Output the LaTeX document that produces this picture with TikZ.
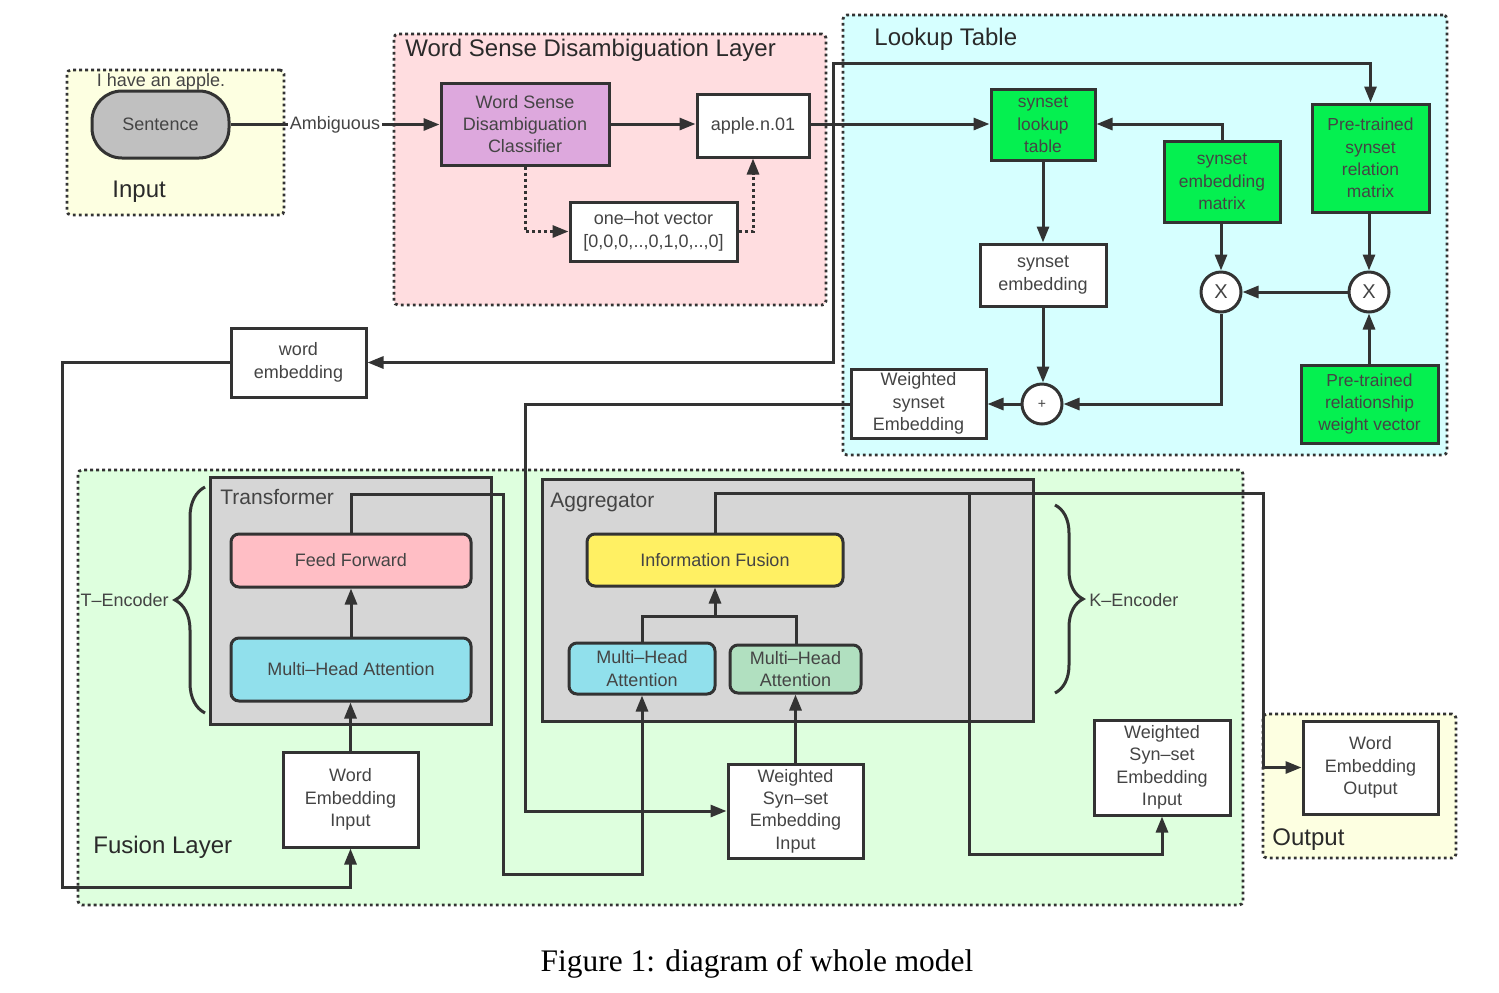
\documentclass[tikz,border=0pt]{standalone}
\usepackage{fontspec}
\setmainfont{Liberation Sans}
\newfontfamily\capfont{Liberation Serif}
\usetikzlibrary{arrows.meta,decorations.pathreplacing}
\definecolor{lc}{HTML}{333333}
\definecolor{tc}{HTML}{444444}
\definecolor{tc2}{HTML}{2A2A2A}
\definecolor{inyel}{HTML}{FDFFE1}
\definecolor{wsdpink}{HTML}{FFDDE0}
\definecolor{lkcyan}{HTML}{D6FFFF}
\definecolor{fusgreen}{HTML}{DEFFDE}
\definecolor{plum}{HTML}{DDA8DD}
\definecolor{brgreen}{HTML}{05F050}
\definecolor{gbox}{HTML}{D6D6D6}
\definecolor{sgray}{HTML}{C0C0C0}
\definecolor{ffpink}{HTML}{FFBEC5}
\definecolor{mhblue}{HTML}{91E0EC}
\definecolor{ifyel}{HTML}{FFF063}
\definecolor{mhgreen}{HTML}{B1E0C0}
\newcommand\myfs{\fontsize{9}{11.2}\selectfont}
\newcommand\myfsg{\fontsize{8.7}{11.2}\selectfont}
\newcommand\myfsT{\fontsize{12}{14}\selectfont}
\newcommand\myfsM{\fontsize{10.5}{12}\selectfont}
% \bx{style}{name}{x1}{y1}{x2}{y2}{text}
\newcommand\bx[7]{\node[#1, minimum width={(#5-#3)*0.5pt}, minimum height={(#6-#4)*0.5pt}] (#2) at ({(#3+#5)/2},{(#4+#6)/2}) {#7};}
\begin{document}
\begin{tikzpicture}[x=0.5pt,y=-0.5pt,
  regionbox/.style={draw=lc, line width=1.4pt, dash pattern=on 1.4pt off 1.6pt, rounded corners=2pt, inner sep=0pt},
  nbox/.style={draw=lc, line width=1.5pt, fill=white, inner sep=0pt, align=center, text=tc, font=\myfs},
  rbox/.style={nbox, rounded corners=4pt},
  gbx/.style={nbox, fill=brgreen, font=\myfsg},
  ln/.style={draw=lc, line width=1.5pt},
  arr/.style={ln, -{Triangle[length=8pt,width=6pt]}},
  darr/.style={arr, dash pattern=on 1.5pt off 1.5pt},
  circ/.style={circle, draw=lc, line width=1.5pt, fill=white, minimum size=20pt, inner sep=0pt, text=tc},
  ttl/.style={anchor=west, inner sep=0pt, text=tc2, font=\myfsT},
  lbl/.style={inner sep=0pt, text=tc, font=\myfs},
  brc/.style={ln, decorate}
]
\useasboundingbox (0,0) rectangle (1499,992);
\fill[white] (0,0) rectangle (1499,992);

% regions
\bx{regionbox, fill=inyel}{inreg}{67}{70}{284}{215}{}
\bx{regionbox, fill=inyel}{outreg}{1263}{714}{1456}{858}{}
\bx{regionbox, fill=wsdpink}{wsdreg}{394}{34}{826}{305}{}
\bx{regionbox, fill=lkcyan}{lkreg}{843}{15}{1447}{455}{}
\bx{regionbox, fill=fusgreen}{fusreg}{78}{470}{1243}{905}{}

\node[ttl] (tin) at (112,192) {Input};
\node[ttl] (tout) at (1272,840) {Output};
\node[ttl] (twsd) at (405,50) {Word Sense Disambiguation Layer};
\node[ttl] (tlk) at (874,39) {Lookup Table};
\node[ttl] (tfus) at (93,847) {Fusion Layer};
\node[lbl] (apple) at (161,82) {I have an apple.};

% gray containers
\bx{nbox, fill=gbox}{trbox}{210}{477}{491}{724}{}
\bx{nbox, fill=gbox}{agbox}{542}{479}{1033}{721}{}
\node[ttl, font=\myfsM, text=tc] (ttr) at (220,497) {Transformer};
\node[ttl, font=\myfsM, text=tc] (tag) at (550,502) {Aggregator};

% input / WSD
\bx{nbox, fill=sgray, rounded corners=15pt}{sent}{92}{91}{229}{158}{Sentence}
\bx{nbox, fill=plum}{cls}{441}{83}{609}{165}{Word Sense\\Disambiguation\\Classifier}
\bx{nbox}{appn}{697}{94}{809}{157}{apple.n.01}
\bx{nbox}{onehot}{570}{202}{737}{261}{one–hot vector\\{[0,0,0,..,0,1,0,..,0]}}

% lookup table
\bx{gbx}{lookup}{991}{89}{1095}{160}{synset\\lookup\\table}
\bx{gbx}{sem}{1164}{141}{1280}{222}{synset\\embedding\\matrix}
\bx{gbx}{relm}{1312}{104}{1429}{212}{Pre-trained\\synset\\relation\\matrix}
\bx{nbox}{semb}{980}{244}{1106}{306}{synset\\embedding}
\node[circ] (x1) at (1221,292) {X};
\node[circ] (x2) at (1369,292) {X};
\node[circ, font=\fontsize{7}{8}\selectfont] (plus) at (1042,404) {+};
\bx{nbox}{wse}{851}{369}{986}{438}{Weighted\\synset\\Embedding}
\bx{gbx}{wv}{1301}{365}{1438}{443}{Pre-trained\\relationship\\weight vector}

\bx{nbox}{wemb}{231}{328}{366}{397}{word\\embedding}

% fusion layer
\bx{rbox, fill=ffpink}{ff}{231}{534}{471}{587}{Feed Forward}
\bx{rbox, fill=mhblue}{mha}{231}{638}{471}{701}{Multi–Head Attention}
\bx{nbox}{wei}{283}{752}{418}{847}{Word\\Embedding\\Input}
\bx{rbox, fill=ifyel}{ifu}{587}{534}{843}{586}{Information Fusion}
\bx{rbox, fill=mhblue}{mhb}{569}{643}{715}{694}{Multi–Head\\Attention}
\bx{rbox, fill=mhgreen}{mhg}{730}{645}{861}{693}{Multi–Head\\Attention}
\bx{nbox}{wsei}{728}{764}{863}{858}{Weighted\\Syn–set\\Embedding\\Input}
\bx{nbox}{wsei2}{1094}{720}{1230}{815}{Weighted\\Syn–set\\Embedding\\Input}
\bx{nbox}{weo}{1303}{721}{1438}{814}{Word\\Embedding\\Output}

% braces
\draw[brc, decoration={brace, amplitude=15pt}] (205,713) -- (205,487);
\node[lbl, anchor=east] (tenc) at (169,600) {T–Encoder};
\draw[brc, decoration={brace, amplitude=14pt}] (1055,505) -- (1055,693);
\node[lbl, anchor=west] (kenc) at (1089,600) {K–Encoder};

% connectors: input / WSD
\draw[arr] (sent.east) -- node[lbl, fill=white, inner sep=1pt] (amb) {Ambiguous} (sent.east -| cls.west);
\draw[arr] (cls.east) -- (cls.east -| appn.west);
\draw[darr] (cls.south) |- (onehot.west);
\draw[darr] (onehot.east) -| (appn.south);
\coordinate (j) at (833,124);
\coordinate (jt) at (833,63);
\draw[arr] (appn.east |- j) -- (j -| lookup.west);
\draw[arr] (j) -- (jt) -| (relm.north);
\draw[arr] (j) |- (wemb.east);

% lookup table internals
\draw[arr] (sem.north) |- (lookup.east |- j);
\draw[arr] (lookup.south) -- (lookup.south |- semb.north);
\draw[arr] (semb.south) -- (semb.south |- plus.north);
\draw[arr] (sem.south -| x1.north) -- (x1.north);
\draw[arr] (relm.south -| x2.north) -- (x2.north);
\draw[arr] (x2.west) -- (x1.east);
\draw[arr] (wv.north -| x2.south) -- (x2.south);
\draw[arr] (x1.south) |- (plus.east);
\draw[arr] (plus.west) -- (wse.east |- plus.west);
\draw[arr] (wse.west |- plus.west) -| (525,811) -- (wsei.west |- 0,811);

% fusion layer
\draw[arr] (wemb.west) -| (62,887) -| (wei.south);
\draw[arr] (wei.north) -- (wei.north |- mha.south);
\draw[arr] (mha.north) -- (mha.north |- ff.south);
\draw[arr] (ff.north) |- (503,494) -- (503,874) -| (mhb.south);
\draw[arr] (wsei.north) -- (wsei.north |- mhg.south);
\draw[ln] (mhb.north) |- (796,616) -- (796,645);
\draw[arr] (715,616) -- (ifu.south);
\draw[arr] (ifu.north) |- (1263,493) |- (weo.west);
\draw[arr] (969,493) -- (969,854) -| (wsei2.south);

% caption
\node[font=\capfont\fontsize{15.7}{18}\selectfont, text=black, inner sep=0pt] (cap) at (757,964) {Figure 1: diagram of whole model};
\end{tikzpicture}
\end{document}
